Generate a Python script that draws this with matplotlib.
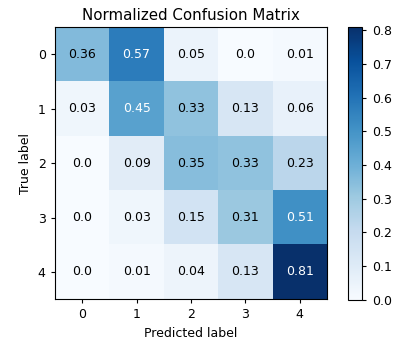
import numpy as np
import matplotlib
matplotlib.use('Agg')
from matplotlib import pyplot as plt

classes = ['0', '1', '2', '3', '4']
cm = np.array([
    [0.36, 0.57, 0.05, 0.0, 0.01],
    [0.03, 0.45, 0.33, 0.13, 0.06],
    [0.0, 0.09, 0.35, 0.33, 0.23],
    [0.0, 0.03, 0.15, 0.31, 0.51],
    [0.0, 0.01, 0.04, 0.13, 0.81],
])

plt.rcParams['font.size'] = 9
plt.rcParams['xtick.major.size'] = 3.2
plt.rcParams['ytick.major.size'] = 3.2

fig = plt.figure(figsize=(4.17, 3.49), dpi=100)
ax = fig.add_axes([0.132, 0.143, 0.652, 0.779])
cax = fig.add_axes([0.835, 0.141, 0.034, 0.782])

im = ax.imshow(cm, interpolation='nearest', cmap=plt.cm.Blues)
fig.colorbar(im, cax=cax)

ax.set_title("Normalized Confusion Matrix", fontsize=10.8, pad=5.4)
ax.set_xticks(np.arange(len(classes)))
ax.set_xticklabels(classes)
ax.set_yticks(np.arange(len(classes)))
ax.set_yticklabels(classes)

thresh = cm.max() / 2.
for i in range(cm.shape[0]):
    for j in range(cm.shape[1]):
        ax.text(j, i, str(cm[i, j]), ha='center', va='center',
                color='white' if cm[i, j] > thresh else 'black')

ax.set_ylabel('True label')
ax.set_xlabel('Predicted label')

fig.savefig('out.png', dpi=100)
